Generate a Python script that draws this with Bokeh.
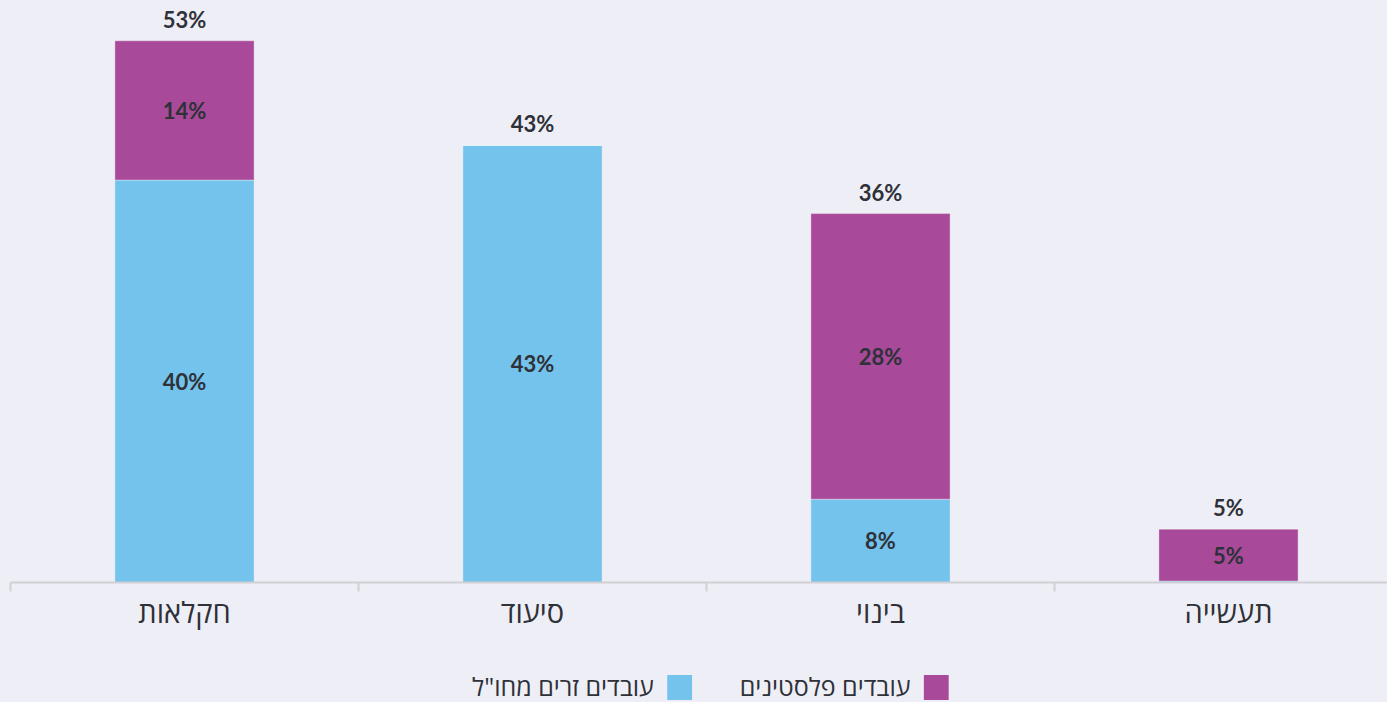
from bokeh.plotting import figure
from bokeh.models import ColumnDataSource, Range1d, FixedTicker
from bokeh.layouts import column
from bokeh.core.properties import value
from bokeh.embed import file_html
from bokeh.resources import INLINE

categories = ["חקלאות", "סיעוד", "בינוי", "תעשייה"]
foreign = [39.6, 43.0, 8.2, 0.15]      # עובדים זרים מחו"ל
palestinian = [13.7, 0.0, 28.1, 5.1]   # עובדים פלסטינים
series_names = ['עובדים זרים מחו"ל', "עובדים פלסטינים"]

BG = "#EEEEF6"
BLUE = "#74C3EC"
PURPLE = "#A84A99"
TXT = "#2E3138"
AXIS = "#CFCFD4"
FONT = "Open Sans"
NUMFONT = "Lato"

W = 1387
n = len(categories)
xs = [i + 0.5 for i in range(n)]
totals = [f + p for f, p in zip(foreign, palestinian)]

p = figure(width=W, height=648, output_backend="svg", toolbar_location=None,
           x_range=Range1d(0, 1377 / 348), y_range=Range1d(0, 582 / 10.163),
           min_border_left=10, min_border_right=0, min_border_top=0, min_border_bottom=66,
           background_fill_color=BG, border_fill_color=BG, outline_line_color=None)

src = ColumnDataSource(dict(x=xs, f=foreign, t=totals))
p.vbar(x="x", width=0.4, bottom=0, top="f", source=src, fill_color=BLUE,
       line_color="white", line_alpha=0.35, line_width=1)
p.vbar(x="x", width=0.4, bottom="f", top="t", source=src, fill_color=PURPLE,
       line_color="white", line_alpha=0.35, line_width=1)

# inner labels
lx, ly, lt = [], [], []
for i in range(n):
    if round(foreign[i]) > 0:
        lx.append(xs[i]); ly.append(foreign[i] / 2); lt.append(f"{round(foreign[i])}%")
    if round(palestinian[i]) > 0:
        lx.append(xs[i]); ly.append(foreign[i] + palestinian[i] / 2); lt.append(f"{round(palestinian[i])}%")
p.text(x=lx, y=ly, text=lt, text_align="center", text_baseline="middle",
       text_font=value(NUMFONT), text_font_size="22px", text_font_style="bold", text_color=TXT)

# totals
p.text(x=xs, y=totals, text=[f"{round(t)}%" for t in totals], text_align="center",
       text_baseline="bottom", y_offset=-8,
       text_font=value(NUMFONT), text_font_size="22px", text_font_style="bold", text_color=TXT)

p.yaxis.visible = False
p.grid.visible = False
ax = p.xaxis[0]
ax.ticker = FixedTicker(ticks=xs, minor_ticks=list(range(n)))
ax.major_label_overrides = {x: c for x, c in zip(xs, categories)}
ax.major_tick_out = 0
ax.major_tick_in = 0
ax.minor_tick_out = 9
ax.minor_tick_in = 0
ax.minor_tick_line_color = AXIS
ax.minor_tick_line_width = 2
ax.axis_line_color = AXIS
ax.axis_line_width = 2
ax.major_label_text_font = FONT
ax.major_label_text_font_size = "29px"
ax.major_label_text_color = TXT
ax.major_label_standoff = 0

# legend (right-to-left)
leg = figure(width=W, height=54, output_backend="svg", toolbar_location=None,
             x_range=Range1d(0, W), y_range=Range1d(0, 54),
             min_border=0, background_fill_color=BG, border_fill_color=BG,
             outline_line_color=None)
leg.axis.visible = False
leg.grid.visible = False
sq_x = [932.5, 674]
leg.rect(x=sq_x, y=[15, 15], width=25, height=25, fill_color=[PURPLE, BLUE], line_color=None)
leg.text(x=[s - 26 for s in sq_x], y=[17, 17], text=[series_names[1], series_names[0]],
         text_align="right", text_baseline="middle", text_font=value(FONT),
         text_font_size="25px", text_color=TXT)

layout = column(p, leg, spacing=0, styles={"background-color": BG})
html = file_html(layout, INLINE)
html = html.replace("<body>", f'<body style="background-color:{BG};">')
open("out.html", "w").write(html)
